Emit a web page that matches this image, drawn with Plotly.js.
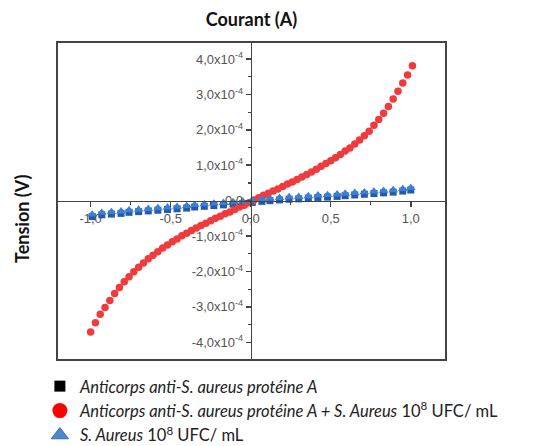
<!DOCTYPE html>
<html><head><meta charset="utf-8">
<script src="https://cdn.plot.ly/plotly-3.0.1.min.js"></script>
<style>html,body{margin:0;padding:0;background:#fff}#chart{width:547px;height:446px}</style>
</head><body><div id="chart"></div>
<script>
// Courant (A) values for the red series
const courantRed = [-1.00,-0.97,-0.94,-0.91,-0.88,-0.85,-0.82,-0.79,-0.76,-0.73,-0.70,-0.67,-0.64,-0.61,-0.58,-0.55,-0.52,-0.49,-0.46,-0.43,-0.40,-0.37,-0.34,-0.31,-0.28,-0.25,-0.22,-0.19,-0.16,-0.13,-0.10,-0.07,-0.04,-0.01,
  0.02,0.05,0.08,0.11,0.14,0.17,0.20,0.23,0.26,0.29,0.32,0.35,0.38,0.41,0.44,0.47,0.50,0.53,0.56,0.59,0.62,0.65,0.68,0.71,0.74,0.77,0.80,0.83,0.86,0.89,0.92,0.95,0.98,1.01];
// Tension (V) values for the red series
const tensionRed = [-3.71e-4,-3.45e-4,-3.21e-4,-3.02e-4,-2.82e-4,-2.62e-4,-2.45e-4,-2.29e-4,-2.15e-4,-2.01e-4,-1.88e-4,-1.76e-4,-1.64e-4,-1.54e-4,-1.44e-4,-1.34e-4,-1.25e-4,-1.16e-4,-1.08e-4,-0.99e-4,-0.92e-4,-0.84e-4,-0.77e-4,-0.70e-4,-0.64e-4,-0.57e-4,-0.50e-4,-0.44e-4,-0.37e-4,-0.32e-4,-0.25e-4,-0.18e-4,-0.13e-4,-0.06e-4,
  0.02e-4,0.08e-4,0.15e-4,0.21e-4,0.27e-4,0.33e-4,0.40e-4,0.47e-4,0.53e-4,0.60e-4,0.67e-4,0.74e-4,0.81e-4,0.89e-4,0.97e-4,1.05e-4,1.13e-4,1.21e-4,1.30e-4,1.40e-4,1.49e-4,1.60e-4,1.71e-4,1.83e-4,1.96e-4,2.13e-4,2.29e-4,2.47e-4,2.66e-4,2.87e-4,3.09e-4,3.32e-4,3.55e-4,3.81e-4];
// Courant (A) values for the blue and black series
const courantBlue = [-0.99,-0.93,-0.87,-0.81,-0.76,-0.70,-0.64,-0.58,-0.52,-0.46,-0.40,-0.35,-0.29,-0.23,-0.17,-0.11,-0.05,
  0.01,0.07,0.12,0.18,0.24,0.30,0.36,0.42,0.48,0.54,0.59,0.65,0.71,0.77,0.83,0.89,0.95,1.00];
const tensionBlue = [-0.39e-4,-0.34e-4,-0.32e-4,-0.30e-4,-0.27e-4,-0.25e-4,-0.23e-4,-0.21e-4,-0.19e-4,-0.17e-4,-0.15e-4,-0.12e-4,-0.10e-4,-0.08e-4,-0.06e-4,-0.04e-4,-0.02e-4,
  0.01e-4,0.04e-4,0.06e-4,0.08e-4,0.10e-4,0.11e-4,0.13e-4,0.15e-4,0.16e-4,0.18e-4,0.20e-4,0.22e-4,0.24e-4,0.26e-4,0.28e-4,0.30e-4,0.33e-4,0.36e-4];
const tensionBlack = [-0.45e-4,-0.40e-4,-0.38e-4,-0.36e-4,-0.33e-4,-0.31e-4,-0.29e-4,-0.27e-4,-0.25e-4,-0.23e-4,-0.21e-4,-0.18e-4,-0.16e-4,-0.14e-4,-0.12e-4,-0.10e-4,-0.08e-4,
  -0.05e-4,-0.02e-4,0.00e-4,0.02e-4,0.04e-4,0.05e-4,0.07e-4,0.09e-4,0.10e-4,0.12e-4,0.14e-4,0.16e-4,0.18e-4,0.20e-4,0.22e-4,0.24e-4,0.27e-4,0.30e-4];

// Legend names
const nameBlack = '<i>Anticorps anti-S. aureus protéine A</i>';
const nameRed = '<i>Anticorps anti-S. aureus protéine A + S. Aureus</i> 10<sup>8</sup> UFC/ mL';
const nameBlue = '<i>S. Aureus</i> 10<sup>8</sup> UFC/ mL';

// Ticks
const xTickVals = [-1.0,-0.5,0.0,0.5,1.0];
const xTickText = ['-1,0','-0,5','0,0','0,5','1,0'];
const xMinorVals = [-0.75,-0.25,0.25,0.75];
const yTickVals = [-4e-4,-3e-4,-2e-4,-1e-4,0,1e-4,2e-4,3e-4,4e-4];
const yTickText = ['-4,0x10<sup>-4</sup>','-3,0x10<sup>-4</sup>','-2,0x10<sup>-4</sup>','-1,0x10<sup>-4</sup>','0,0',
  '1,0x10<sup>-4</sup>','2,0x10<sup>-4</sup>','3,0x10<sup>-4</sup>','4,0x10<sup>-4</sup>'];
const yMinorVals = [-4.5e-4,-3.5e-4,-2.5e-4,-1.5e-4,-0.5e-4,0.5e-4,1.5e-4,2.5e-4,3.5e-4];

const xRange = [-1.21, 1.22];
const yRange = [-4.5e-4, 4.48e-4];
const xZero = (0 - xRange[0]) / (xRange[1] - xRange[0]);
const yZero = (0 - yRange[0]) / (yRange[1] - yRange[0]);

const traces = [
  {x: courantBlue, y: tensionBlack, type:'scatter', mode:'markers', showlegend:false,
   marker:{symbol:'square', size:7, color:'#2459ad'}},
  {x: courantRed, y: tensionRed, type:'scatter', mode:'markers', showlegend:false,
   marker:{symbol:'circle', size:7.5, color:'#f03a3c'}},
  {x: courantBlue, y: tensionBlue, type:'scatter', mode:'markers', showlegend:false,
   marker:{symbol:'triangle-up', size:8.5, color:'#3b7fd6'}},
  // legend entries
  {x:[null], y:[null], type:'scatter', mode:'markers', name:nameBlack,
   marker:{symbol:'square', size:11, color:'#000'}},
  {x:[null], y:[null], type:'scatter', mode:'markers', name:nameRed,
   marker:{symbol:'circle', size:15, color:'#ff0000'}},
  {x:[null], y:[null], type:'scatter', mode:'markers', name:nameBlue,
   marker:{symbol:'triangle-up', size:15, color:'#4b88cc', line:{color:'#3a6fa8', width:1}}}
];

const axisCommon = {
  showgrid:false, zeroline:false, showline:true, linecolor:'#444', linewidth:1.5,
  anchor:'free', ticks:'outside', ticklen:5, tickwidth:1.5, tickcolor:'#444',
  tickmode:'array', tickfont:{family:'Liberation Sans, Arial', size:13, color:'#555'},
  fixedrange:true
};

const layout = {
  width:547, height:446,
  margin:{l:57, r:101, t:42, b:86, autoexpand:false},
  paper_bgcolor:'#fff', plot_bgcolor:'#fff',
  title:{text:'<b>Courant (A)</b>', font:{family:'Lato', size:18, color:'#111'},
         x:0.5, xref:'paper', y:0.955, yref:'container', yanchor:'middle', automargin:false},
  xaxis: Object.assign({}, axisCommon, {
    range:xRange, position:yZero, tickvals:xTickVals, ticktext:xTickText,
    minor:{tickmode:'array', tickvals:xMinorVals, ticks:'outside', ticklen:3, tickwidth:1.2, tickcolor:'#444', showgrid:false}
  }),
  yaxis: Object.assign({}, axisCommon, {
    range:yRange, position:xZero, tickvals:yTickVals, ticktext:yTickText,
    minor:{tickmode:'array', tickvals:yMinorVals, ticks:'outside', ticklen:3, tickwidth:1.2, tickcolor:'#444', showgrid:false}
  }),
  showlegend:true,
  legend:{x:-0.044, xanchor:'left', y:-0.028, yanchor:'top', orientation:'v',
          font:{family:'Lato', size:16.5, color:'#222'}, bgcolor:'rgba(0,0,0,0)', itemclick:false, itemdoubleclick:false},
  shapes:[{type:'rect', xref:'paper', yref:'paper', x0:0, x1:1, y0:0, y1:1,
           line:{color:'#444', width:2}, fillcolor:'rgba(0,0,0,0)', layer:'above'}],
  annotations:[{text:'<b>Tension (V)</b>', xref:'paper', yref:'paper', x:-0.09, y:0.4465,
                showarrow:false, textangle:-90, font:{family:'Lato', size:18, color:'#111'},
                xanchor:'center', yanchor:'middle'}]
};

Plotly.newPlot('chart', traces, layout, {displayModeBar:false, staticPlot:true});
</script></body></html>
